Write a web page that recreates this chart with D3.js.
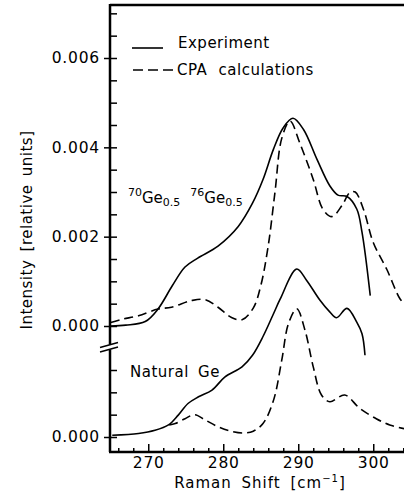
<!DOCTYPE html>
<html>
<head>
<meta charset="utf-8">
<script src="https://cdn.jsdelivr.net/npm/d3@7"></script>
<style>
  body { margin: 0; background: #fff; }
  svg text { font-family: "DejaVu Sans", sans-serif; fill: #000; }
</style>
</head>
<body>
<div id="graph"></div>
<script>
// Raman shift (cm^-1) and intensity for each curve
const upperExpX = [265.0, 267.0, 269.6, 271.3, 273.2, 274.9, 276.6, 279.3, 282.0, 283.9, 285.3, 286.7, 288.0, 289.3, 290.7, 292.5, 294.2, 295.3, 296.5, 297.8, 298.5, 299.6];
const upperExpY = [0.0000, 0.00002, 0.0001, 0.00038, 0.0009, 0.00132, 0.00152, 0.00179, 0.00223, 0.00275, 0.00328, 0.00396, 0.00444, 0.00465, 0.0044, 0.00373, 0.00314, 0.00293, 0.0029, 0.00262, 0.0021, 0.00068];

const upperCpaX = [265.0, 266.5, 268.7, 271.3, 273.1, 275.8, 277.6, 279.3, 281.1, 282.5, 284.0, 285.0, 286.0, 286.9, 287.8, 288.9, 290.2, 292.0, 293.3, 294.5, 295.8, 296.9, 297.6, 298.7, 300.0, 301.8, 303.6, 304.3];
const upperCpaY = [0.00008, 0.00015, 0.00023, 0.00038, 0.00042, 0.00057, 0.00059, 0.00042, 0.00019, 0.00014, 0.0004, 0.0009, 0.0018, 0.0030, 0.0042, 0.00459, 0.0041, 0.00328, 0.00261, 0.00245, 0.00269, 0.00299, 0.003, 0.00261, 0.00187, 0.00127, 0.0006, 0.00048];

const lowerExpX = [265.2, 268.7, 270.9, 272.7, 274.0, 275.3, 276.7, 278.5, 280.2, 282.5, 283.9, 285.3, 286.7, 287.6, 289.8, 291.1, 292.9, 294.2, 295.1, 296.5, 297.8, 298.5, 298.9];
const lowerExpY = [0.00004, 0.00008, 0.00015, 0.00027, 0.00049, 0.00075, 0.0009, 0.00105, 0.00134, 0.00157, 0.00183, 0.00225, 0.00276, 0.00309, 0.00376, 0.00351, 0.00306, 0.0028, 0.00267, 0.00288, 0.00257, 0.00231, 0.00183];

const lowerCpaX = [272.8, 273.6, 274.9, 276.2, 277.6, 279.3, 281.0, 282.7, 284.0, 285.3, 286.7, 287.8, 288.7, 289.8, 290.9, 292.0, 293.1, 294.2, 296.2, 298.2, 300.4, 302.2, 304.3];
const lowerCpaY = [0.00027, 0.0003, 0.00041, 0.0005, 0.00038, 0.00023, 0.00013, 0.00009, 0.00013, 0.0003, 0.00082, 0.00172, 0.00254, 0.00287, 0.00239, 0.00157, 0.00094, 0.00079, 0.00094, 0.00064, 0.00041, 0.00027, 0.00018];

const xMajor = [270, 280, 290, 300];
const xMinor = [266, 268, 272, 274, 276, 278, 282, 284, 286, 288, 292, 294, 296, 298, 302, 304];
const yUpMajor = [0, 0.002, 0.004, 0.006];
const yUpMinor = [0.0005, 0.001, 0.0015, 0.0025, 0.003, 0.0035, 0.0045, 0.005, 0.0055, 0.0065, 0.007];
const yLowMajor = [0];
const yLowMinor = [0.0005, 0.001, 0.0015];

const width = 404, height = 495;
const plotLeft = 110, plotRight = 404, plotTop = 5, plotBottom = 452;

const svg = d3.select("#graph")
    .append("svg")
        .attr("width", width)
        .attr("height", height);

const x = d3.scaleLinear().domain([264.9, 304.1]).range([plotLeft, plotRight]);
const yUp = d3.scaleLinear().domain([0, 0.006]).range([326, 58]);
const yLow = d3.scaleLinear().domain([0, 0.006]).range([437, 169]);

svg.append("clipPath").attr("id", "plot")
  .append("rect").attr("x", plotLeft).attr("y", plotTop)
  .attr("width", plotRight - plotLeft).attr("height", plotBottom - plotTop);

function curve(xs, ys, y, dashed) {
    const line = d3.line()
        .x(d => x(d[0]))
        .y(d => y(d[1]))
        .curve(d3.curveCatmullRom.alpha(0.5));
    svg.append("path")
        .datum(d3.zip(xs, ys))
        .attr("clip-path", "url(#plot)")
        .attr("fill", "none")
        .attr("stroke", "#000")
        .attr("stroke-width", 1.6)
        .attr("stroke-dasharray", dashed ? "9,5" : null)
        .attr("d", line);
}

curve(upperExpX, upperExpY, yUp, false);
curve(upperCpaX, upperCpaY, yUp, true);
curve(lowerExpX, lowerExpY, yLow, false);
curve(lowerCpaX, lowerCpaY, yLow, true);

// axes: ticks point inside, major y ticks also poke outside
const noDomain = g => g.select(".domain").remove();
function styleTicks(g) {
    g.selectAll(".tick line").attr("stroke", "#000").attr("stroke-width", 1.5);
}

svg.append("g").attr("transform", `translate(0,${plotBottom})`)
    .call(d3.axisBottom(x).tickValues(xMajor).tickSize(-8).tickPadding(5).tickFormat(d3.format("d")))
    .call(noDomain).call(styleTicks)
    .selectAll("text").attr("font-size", 15.5).attr("letter-spacing", 0.8).style("font-family", "DejaVu Sans");
svg.append("g").attr("transform", `translate(0,${plotBottom})`)
    .call(d3.axisBottom(x).tickValues(xMinor).tickSize(-4).tickFormat(""))
    .call(noDomain).call(styleTicks);

[[yUp, yUpMajor, yUpMinor], [yLow, yLowMajor, yLowMinor]].forEach(([y, major, minor]) => {
    svg.append("g").attr("transform", `translate(${plotLeft},0)`)
        .call(d3.axisLeft(y).tickValues(major).tickSize(6).tickPadding(4).tickFormat(d3.format(".3f")))
        .call(noDomain).call(styleTicks)
        .selectAll("text").attr("font-size", 15.5).attr("letter-spacing", 0.8).style("font-family", "DejaVu Sans");
    svg.append("g").attr("transform", `translate(${plotLeft},0)`)
        .call(d3.axisLeft(y).tickValues(major.concat(minor)).tickSize(-7).tickFormat(""))
        .call(noDomain).call(styleTicks);
});

// frame lines with the axis break
const frame = svg.append("g").attr("stroke", "#000").attr("fill", "none");
frame.append("line").attr("x1", plotLeft).attr("x2", plotRight).attr("y1", plotTop).attr("y2", plotTop).attr("stroke-width", 2.5);
frame.append("line").attr("x1", plotLeft - 1).attr("x2", plotRight).attr("y1", plotBottom).attr("y2", plotBottom).attr("stroke-width", 2.5);
frame.append("line").attr("x1", plotLeft).attr("x2", plotLeft).attr("y1", plotTop - 1).attr("y2", 344.5).attr("stroke-width", 2.5);
frame.append("line").attr("x1", plotLeft).attr("x2", plotLeft).attr("y1", 349.5).attr("y2", plotBottom).attr("stroke-width", 2.5);
frame.append("line").attr("x1", 100).attr("x2", 118).attr("y1", 347.5).attr("y2", 342.5).attr("stroke-width", 1.5);
frame.append("line").attr("x1", 100).attr("x2", 118).attr("y1", 352).attr("y2", 347).attr("stroke-width", 1.5);

// axis titles
svg.append("text")
    .attr("x", 260).attr("y", 488)
    .attr("text-anchor", "middle")
    .attr("font-size", 15).attr("letter-spacing", 1).attr("word-spacing", 4)
    .call(t => {
        t.append("tspan").text("Raman Shift [cm");
        t.append("tspan").attr("font-size", 10).attr("dy", -6).text("\u22121");
        t.append("tspan").attr("dy", 6).text("]");
    });

svg.append("text")
    .attr("transform", "translate(32,230) rotate(-90)")
    .attr("text-anchor", "middle")
    .attr("font-size", 15).attr("letter-spacing", 0.5).attr("word-spacing", 3)
    .text("Intensity [relative units]");

// legend
const legend = svg.append("g");
legend.append("line").attr("x1", 132).attr("x2", 163).attr("y1", 48).attr("y2", 48)
    .attr("stroke", "#000").attr("stroke-width", 1.6);
legend.append("line").attr("x1", 133).attr("x2", 175).attr("y1", 70).attr("y2", 70)
    .attr("stroke", "#000").attr("stroke-width", 1.6).attr("stroke-dasharray", "10,5");
legend.append("text").attr("x", 178).attr("y", 48).attr("font-size", 15).attr("letter-spacing", 0.5)
    .text("Experiment");
legend.append("text").attr("x", 177).attr("y", 75).attr("font-size", 15).attr("letter-spacing", 0.5)
    .attr("word-spacing", 6).text("CPA calculations");

// sample labels
svg.append("text").attr("x", 128).attr("y", 203).attr("font-size", 15)
    .call(t => {
        t.append("tspan").attr("font-size", 11).attr("dy", -7).text("70");
        t.append("tspan").attr("dy", 7).text("Ge");
        t.append("tspan").attr("font-size", 11).attr("dy", 3).text("0.5");
        t.append("tspan").attr("dx", 10).attr("font-size", 11).attr("dy", -10).text("76");
        t.append("tspan").attr("dy", 7).text("Ge");
        t.append("tspan").attr("font-size", 11).attr("dy", 3).text("0.5");
    });

svg.append("text").attr("x", 130).attr("y", 377).attr("font-size", 15)
    .attr("letter-spacing", 0.5).attr("word-spacing", 4)
    .text("Natural Ge");
</script>
</body>
</html>
